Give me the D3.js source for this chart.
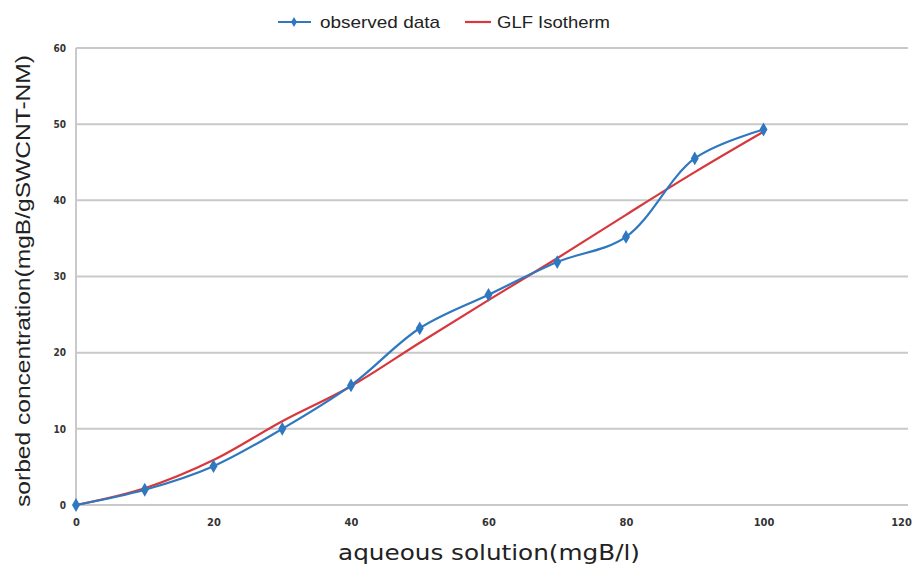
<!DOCTYPE html>
<html><head><meta charset="utf-8">
<script src="https://cdn.jsdelivr.net/npm/d3@7"></script>
<style>body{margin:0;background:#fff}</style>
</head><body>
<svg id="c" width="915" height="568"></svg>
<script>
const xValues = [0, 10, 20, 30, 40, 50, 60, 70, 80, 90, 100];
const observed = [0, 2.0, 5.1, 10.0, 15.7, 23.2, 27.6, 31.9, 35.2, 45.5, 49.3];
const glf = [0, 2.2, 5.9, 11.0, 15.6, 21.3, 26.9, 32.4, 38.1, 43.7, 49.0];
const xTicks = [0, 20, 40, 60, 80, 100, 120];
const yTicks = [0, 10, 20, 30, 40, 50, 60];
const seriesNames = ["observed data", "GLF Isotherm"];
const colors = ["#2f78c0", "#d8383c"];

const svg = d3.select("#c");
const x = d3.scaleLinear().domain([0, 120]).range([76, 901]);
const y = d3.scaleLinear().domain([0, 60]).range([505, 48]);

// gridlines
svg.append("g").selectAll("line").data(yTicks).join("line")
  .attr("x1", x(0)).attr("x2", 908)
  .attr("y1", d => y(d)).attr("y2", d => y(d))
  .attr("stroke", "#c9c9c9").attr("stroke-width", 2);
// left axis line
svg.append("line").attr("x1", x(0)).attr("x2", x(0)).attr("y1", y(60)).attr("y2", y(0))
  .attr("stroke", "#c9c9c9").attr("stroke-width", 2);

const tickFont = "'DejaVu Sans Condensed','Liberation Sans Narrow',sans-serif";
// y tick labels
const yAxis = d3.axisLeft(y).tickValues(yTicks).tickSize(0).tickPadding(10);
const gy = svg.append("g").attr("transform", `translate(${x(0)},0)`).call(yAxis);
gy.select(".domain").remove();
gy.selectAll("text").attr("font-family", tickFont).attr("font-size", 10).attr("font-weight", "bold").attr("fill", "#333");
// x tick labels
const xAxis = d3.axisBottom(x).tickValues(xTicks).tickSize(0).tickPadding(13);
const gx = svg.append("g").attr("transform", `translate(0,${y(0)})`).call(xAxis);
gx.select(".domain").remove();
gx.selectAll("text").attr("font-family", tickFont).attr("font-size", 11).attr("font-weight", "bold").attr("fill", "#333");

const pts = s => xValues.map((v, i) => [v, s[i]]);
const line = d3.line().x(d => x(d[0])).y(d => y(d[1])).curve(d3.curveCatmullRom.alpha(0.5));

// GLF
svg.append("path").attr("d", line(pts(glf))).attr("fill", "none")
  .attr("stroke", colors[1]).attr("stroke-width", 2.2);
// observed
svg.append("path").attr("d", line(pts(observed))).attr("fill", "none")
  .attr("stroke", colors[0]).attr("stroke-width", 2.2);
const diamond = d3.symbol().type(d3.symbolDiamond).size(55);
svg.append("g").selectAll("path").data(pts(observed)).join("path")
  .attr("d", diamond).attr("transform", d => `translate(${x(d[0])},${y(d[1])})`)
  .attr("fill", colors[0]);

// legend
const lg = svg.append("g");
lg.append("line").attr("x1", 278).attr("x2", 311).attr("y1", 22).attr("y2", 22).attr("stroke", colors[0]).attr("stroke-width", 2.2);
lg.append("path").attr("d", d3.symbol().type(d3.symbolDiamond).size(30)).attr("transform", "translate(294,22)").attr("fill", colors[0]);
lg.append("text").attr("x", 320).attr("y", 28).text(seriesNames[0])
  .attr("font-family", "'Liberation Sans',Arial,sans-serif").attr("font-size", 17).attr("fill", "#222")
  .attr("textLength", 120).attr("lengthAdjust", "spacingAndGlyphs");
lg.append("line").attr("x1", 465).attr("x2", 491).attr("y1", 22).attr("y2", 22).attr("stroke", colors[1]).attr("stroke-width", 2.2);
lg.append("text").attr("x", 497).attr("y", 28).text(seriesNames[1])
  .attr("font-family", "'Liberation Sans',Arial,sans-serif").attr("font-size", 17).attr("fill", "#222")
  .attr("textLength", 113).attr("lengthAdjust", "spacingAndGlyphs");

// axis titles
svg.append("text").attr("x", 489).attr("y", 560).attr("text-anchor", "middle")
  .attr("font-family", "'DejaVu Sans Condensed',sans-serif").attr("font-size", 22).attr("fill", "#222")
  .attr("textLength", 302).attr("lengthAdjust", "spacingAndGlyphs")
  .text("aqueous solution(mgB/l)");
svg.append("text").attr("transform", "translate(30,281) rotate(-90)").attr("text-anchor", "middle")
  .attr("font-family", "'Liberation Sans',Arial,sans-serif").attr("font-size", 21).attr("fill", "#222")
  .attr("textLength", 452).attr("lengthAdjust", "spacingAndGlyphs")
  .text("sorbed concentration(mgB/gSWCNT-NM)");
</script>
</body></html>
